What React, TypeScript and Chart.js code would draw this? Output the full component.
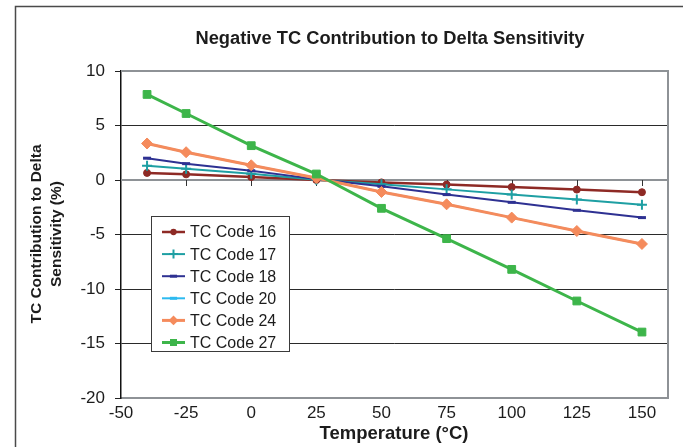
import React, { useEffect, useRef } from 'react';
import { Chart, registerables } from 'chart.js';

Chart.register(...registerables);

// ---- data ----
const temperatures = [-40, -25, 0, 25, 50, 75, 100, 125, 150];
const tcCode16 = [0.65, 0.52, 0.27, 0.0, -0.22, -0.42, -0.65, -0.88, -1.12];
const tcCode17 = [1.3, 1.04, 0.58, 0.03, -0.4, -0.86, -1.34, -1.8, -2.28];
const tcCode18 = [2.0, 1.5, 0.85, 0.08, -0.58, -1.34, -2.05, -2.78, -3.45];
const tcCode20 = [3.35, 2.55, 1.35, 0.18, -1.1, -2.23, -3.45, -4.68, -5.87];
const tcCode24 = [3.35, 2.55, 1.35, 0.18, -1.1, -2.23, -3.45, -4.68, -5.87];
const tcCode27 = [7.85, 6.1, 3.15, 0.55, -2.6, -5.38, -8.2, -11.1, -13.95];
const seriesNames = ['TC Code 16', 'TC Code 17', 'TC Code 18', 'TC Code 20', 'TC Code 24', 'TC Code 27'];
const xTickValues = [-50, -25, 0, 25, 50, 75, 100, 125, 150];

const titleText = 'Negative TC Contribution to Delta Sensitivity';
const xTitle = 'Temperature (°C)';
const yTitleLines = ['TC Contribution to Delta', 'Sensitivity (%)'];

const FONT = "'Liberation Sans', Arial, Helvetica, sans-serif";
const TEXT = '#1c1c1c';

const seriesValues = [tcCode16, tcCode17, tcCode18, tcCode20, tcCode24, tcCode27];
const colors = ['#8E2A25', '#1E9FA3', '#2E3192', '#2DBAF0', '#F58B5C', '#3DB54A'];
const pointStyles = ['circle', 'cross', 'line', 'line', 'rectRot', 'rect'];
const pointRadii = [3.5, 5, 4, 4, 5.5, 5.5];
const lineWidths = [2.5, 2, 2, 2, 3, 3];

function drawMarker(ctx: CanvasRenderingContext2D, style: string, x: number, y: number, r: number, color: string) {
  ctx.save();
  ctx.fillStyle = color;
  ctx.strokeStyle = color;
  ctx.beginPath();
  if (style === 'circle') {
    ctx.arc(x, y, r, 0, Math.PI * 2);
    ctx.fill();
  } else if (style === 'cross') {
    ctx.lineWidth = 2;
    ctx.moveTo(x - r, y);
    ctx.lineTo(x + r, y);
    ctx.moveTo(x, y - r);
    ctx.lineTo(x, y + r);
    ctx.stroke();
  } else if (style === 'line') {
    ctx.lineWidth = 3;
    ctx.moveTo(x - r, y);
    ctx.lineTo(x + r, y);
    ctx.stroke();
  } else if (style === 'rectRot') {
    ctx.moveTo(x, y - r);
    ctx.lineTo(x + r, y);
    ctx.lineTo(x, y + r);
    ctx.lineTo(x - r, y);
    ctx.closePath();
    ctx.fill();
  } else if (style === 'rect') {
    const s = r * Math.SQRT1_2;
    ctx.rect(x - s, y - s, 2 * s, 2 * s);
    ctx.fill();
  }
  ctx.restore();
}

const decorPlugin = {
  id: 'decor',
  beforeDraw(chart: any) {
    const ctx = chart.ctx as CanvasRenderingContext2D;
    ctx.save();
    ctx.fillStyle = '#ffffff';
    ctx.fillRect(0, 0, chart.width, chart.height);
    // outer frame
    ctx.strokeStyle = '#4a4a4a';
    ctx.lineWidth = 1.5;
    ctx.beginPath();
    ctx.moveTo(15.5, chart.height);
    ctx.lineTo(15.5, 6.5);
    ctx.lineTo(chart.width, 6.5);
    ctx.stroke();
    // title
    ctx.fillStyle = TEXT;
    ctx.font = `bold 18.3px ${FONT}`;
    ctx.textAlign = 'center';
    ctx.textBaseline = 'middle';
    ctx.fillText(titleText, 390, 39);
    ctx.restore();
  },
  beforeDatasetsDraw(chart: any) {
    const ctx = chart.ctx as CanvasRenderingContext2D;
    const { left, right, top, bottom } = chart.chartArea;
    const xs = chart.scales.x;
    const ys = chart.scales.y;
    ctx.save();
    // plot frame: top and right in gray
    ctx.strokeStyle = '#8E9296';
    ctx.lineWidth = 2;
    ctx.beginPath();
    ctx.moveTo(left, top);
    ctx.lineTo(right, top);
    ctx.lineTo(right, bottom);
    ctx.stroke();
    // horizontal axis at y = 0
    const y0 = ys.getPixelForValue(0);
    ctx.lineWidth = 2;
    ctx.beginPath();
    ctx.moveTo(left, y0);
    ctx.lineTo(right, y0);
    ctx.stroke();
    // tick marks on the zero axis
    ctx.strokeStyle = '#333333';
    ctx.lineWidth = 1;
    ctx.beginPath();
    xTickValues.forEach((v) => {
      if (v === xs.min) return;
      const px = Math.round(xs.getPixelForValue(v)) + 0.5;
      ctx.moveTo(px, y0);
      ctx.lineTo(px, y0 + 6);
    });
    ctx.stroke();
    ctx.restore();
  },
  afterDraw(chart: any) {
    const ctx = chart.ctx as CanvasRenderingContext2D;
    ctx.save();
    // axis titles
    ctx.fillStyle = TEXT;
    ctx.font = `bold 18.5px ${FONT}`;
    ctx.textAlign = 'center';
    ctx.textBaseline = 'middle';
    ctx.fillText(xTitle, 394, 434);
    ctx.font = `bold 15.5px ${FONT}`;
    ctx.save();
    ctx.translate(37, 234);
    ctx.rotate(-Math.PI / 2);
    ctx.fillText(yTitleLines[0], 0, 0);
    ctx.restore();
    ctx.save();
    ctx.translate(57, 234);
    ctx.rotate(-Math.PI / 2);
    ctx.fillText(yTitleLines[1], 0, 0);
    ctx.restore();

    // legend
    const bx = 151.5, by = 216.5, bw = 138, bh = 135;
    ctx.fillStyle = '#ffffff';
    ctx.fillRect(bx, by, bw, bh);
    ctx.strokeStyle = '#3a3a3a';
    ctx.lineWidth = 1;
    ctx.strokeRect(bx, by, bw, bh);
    ctx.font = `16px ${FONT}`;
    ctx.textAlign = 'left';
    ctx.textBaseline = 'middle';
    seriesNames.forEach((name, i) => {
      const y = 232 + i * 22.1;
      ctx.strokeStyle = colors[i];
      ctx.lineWidth = lineWidths[i];
      ctx.beginPath();
      ctx.moveTo(162, y);
      ctx.lineTo(185, y);
      ctx.stroke();
      drawMarker(ctx, pointStyles[i], 173.5, y, pointRadii[i] * 0.9, colors[i]);
      ctx.fillStyle = TEXT;
      ctx.fillText(name, 190, y + 1);
    });
    ctx.restore();
  },
};

export default function App() {
  const canvasRef = useRef<HTMLCanvasElement | null>(null);

  useEffect(() => {
    if (!canvasRef.current) return;
    const datasets = seriesNames.map((name, i) => ({
      label: name,
      data: temperatures.map((t, j) => ({ x: t, y: seriesValues[i][j] })),
      borderColor: colors[i],
      backgroundColor: colors[i],
      borderWidth: lineWidths[i],
      pointStyle: pointStyles[i] as any,
      pointRadius: pointRadii[i],
      pointBorderWidth: pointStyles[i] === 'cross' ? 2 : pointStyles[i] === 'line' ? 3 : 1,
      pointHoverRadius: pointRadii[i],
      tension: 0,
      order: seriesNames.length - 1 - i,
    }));

    const chart = new Chart(canvasRef.current, {
      type: 'line',
      data: { datasets },
      options: {
        responsive: false,
        animation: false,
        devicePixelRatio: 1,
        layout: { padding: { left: 0, right: 15, top: 71, bottom: 0 } },
        plugins: {
          legend: { display: false },
          title: { display: false },
          tooltip: { enabled: false },
        },
        scales: {
          x: {
            type: 'linear',
            min: -50,
            max: 160,
            afterFit: (scale: any) => { scale.height = 49; },
            afterBuildTicks: (scale: any) => { scale.ticks = xTickValues.map((v) => ({ value: v })); },
            grid: { display: false, drawTicks: false },
            border: { display: true, color: '#8E9296', width: 2 },
            ticks: {
              padding: 5,
              color: TEXT,
              font: { family: FONT, size: 17 },
              maxRotation: 0,
              autoSkip: false,
            },
          },
          y: {
            type: 'linear',
            min: -20,
            max: 10,
            afterFit: (scale: any) => { scale.width = 121; },
            grid: {
              color: (c: any) => (c.tick && (c.tick.value === 0 || c.tick.value === -20 || c.tick.value === 10) ? 'rgba(0,0,0,0)' : '#2a2a2a'),
              lineWidth: 1,
              tickLength: 6,
              tickColor: '#222222',
              drawTicks: true,
            },
            border: { display: true, color: '#111111', width: 1.5 },
            ticks: {
              stepSize: 5,
              padding: 10,
              color: TEXT,
              font: { family: FONT, size: 17 },
            },
          },
        },
      },
      plugins: [decorPlugin],
    });
    return () => chart.destroy();
  }, []);

  return (
    <div style={{ position: 'fixed', left: 0, top: 0, width: 683, height: 447, background: '#fff' }}>
      <canvas ref={canvasRef} width={683} height={447} style={{ display: 'block' }} />
    </div>
  );
}
